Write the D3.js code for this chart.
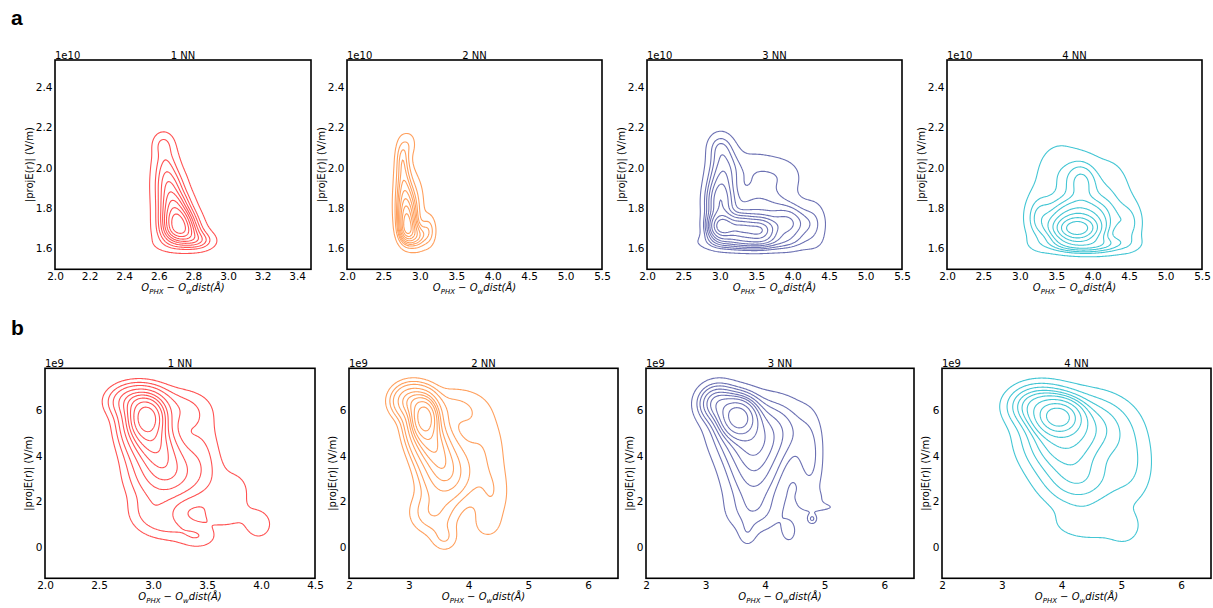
<!DOCTYPE html>
<html><head><meta charset="utf-8">
<script src="https://cdn.jsdelivr.net/npm/d3@7"></script>
<style>
body{margin:0;background:#fff;}
text{font-family:"DejaVu Sans",sans-serif;fill:#000;}
</style></head>
<body>
<svg id="chart" width="1213" height="608"></svg>
<script>
// ---- DATA ----
const titles = ["1 NN", "2 NN", "3 NN", "4 NN"];
const colors = ["#ff5252", "#ffa05e", "#6c71b3", "#44c6d4"];

const aXTicks1 = [2.0, 2.2, 2.4, 2.6, 2.8, 3.0, 3.2, 3.4];
const aXTicks = [2.0, 2.5, 3.0, 3.5, 4.0, 4.5, 5.0, 5.5];
const aYTicks = [1.6, 1.8, 2.0, 2.2, 2.4];
const bXTicks1 = [2.0, 2.5, 3.0, 3.5, 4.0, 4.5];
const bXTicks = [2, 3, 4, 5, 6];
const bYTicks = [0, 2, 4, 6];

const aXRange1 = [2.0, 3.48];
const aXRange = [2.0, 5.5];
const aYRange = [1.496, 2.536];   // x 1e10
const bXRange1 = [2.0, 4.5];
const bXRange = [2.0, 6.5];
const bYRange = [-1.35, 7.82];    // x 1e9

// Density components: [x, y, sx, sy, rho, weight]
const a1Density = [
  [2.725, 1.680, 0.072, 0.038, 0.0, 0.22],
  [2.710, 1.740, 0.066, 0.042, 0.0, 0.22],
  [2.690, 1.810, 0.062, 0.050, 0.0, 0.18],
  [2.665, 1.900, 0.058, 0.060, 0.0, 0.15],
  [2.640, 2.010, 0.050, 0.070, 0.0, 0.10],
  [2.625, 2.120, 0.040, 0.040, 0.0, 0.03],
  [2.830, 1.640, 0.060, 0.030, 0.0, 0.05],
  [2.720, 1.620, 0.100, 0.030, 0.0, 0.05]
];
const a2Density = [
  [2.825, 1.692, 0.075, 0.045, 0.0, 0.20],
  [2.815, 1.760, 0.080, 0.052, 0.0, 0.19],
  [2.795, 1.840, 0.082, 0.062, 0.0, 0.16],
  [2.775, 1.950, 0.074, 0.070, 0.0, 0.11],
  [2.760, 2.060, 0.058, 0.060, 0.0, 0.06],
  [2.860, 2.120, 0.060, 0.040, 0.0, 0.02],
  [2.960, 1.660, 0.090, 0.040, 0.0, 0.10],
  [3.120, 1.690, 0.065, 0.050, 0.0, 0.05],
  [2.930, 1.820, 0.090, 0.100, 0.0, 0.10]
];
const a3Density = [
  [3.020, 1.705, 0.120, 0.042, 0.0, 0.10],
  [3.280, 1.700, 0.130, 0.042, 0.0, 0.09],
  [3.550, 1.690, 0.140, 0.040, 0.0, 0.10],
  [3.000, 1.830, 0.130, 0.085, 0.0, 0.14],
  [3.500, 1.790, 0.280, 0.085, 0.0, 0.14],
  [3.950, 1.720, 0.180, 0.065, 0.0, 0.10],
  [3.050, 2.000, 0.140, 0.080, 0.0, 0.07],
  [3.000, 2.110, 0.120, 0.050, 0.0, 0.02],
  [3.450, 1.990, 0.220, 0.070, 0.0, 0.04],
  [3.850, 1.960, 0.220, 0.070, 0.0, 0.04],
  [4.300, 1.720, 0.120, 0.080, 0.0, 0.03],
  [3.400, 1.630, 0.400, 0.030, 0.0, 0.08]
];
const a4Density = [
  [3.780, 1.695, 0.190, 0.037, 0.0, 0.25],
  [3.800, 1.750, 0.260, 0.060, 0.0, 0.25],
  [3.850, 1.930, 0.140, 0.070, 0.0, 0.06],
  [3.550, 1.950, 0.230, 0.120, 0.0, 0.09],
  [4.200, 1.850, 0.220, 0.130, 0.0, 0.10],
  [3.900, 1.620, 0.350, 0.030, 0.0, 0.10],
  [3.250, 1.750, 0.120, 0.080, 0.0, 0.04],
  [4.500, 1.720, 0.120, 0.070, 0.0, 0.03]
];
const b1Density = [
  [2.950, 5.700, 0.100, 0.500, 0.0, 0.18],
  [2.950, 5.000, 0.140, 0.700, -0.3, 0.20],
  [3.050, 4.000, 0.180, 0.800, -0.3, 0.18],
  [3.100, 3.000, 0.200, 0.700, 0.0, 0.12],
  [2.850, 6.400, 0.150, 0.450, 0.0, 0.10],
  [3.200, 6.000, 0.200, 0.600, 0.0, 0.06],
  [3.450, 4.000, 0.120, 1.200, 0.0, 0.05],
  [3.750, 2.400, 0.150, 0.900, 0.0, 0.03],
  [3.980, 1.000, 0.090, 0.450, 0.0, 0.012],
  [3.000, 1.500, 0.150, 0.600, 0.0, 0.04],
  [3.420, 0.450, 0.120, 0.350, 0.0, 0.012],
  [3.200, 0.800, 0.150, 0.400, 0.0, 0.015],
  [3.650, 1.400, 0.120, 0.350, 0.0, 0.008]
];
const b2Density = [
  [3.270, 5.700, 0.130, 0.500, 0.0, 0.18],
  [3.300, 5.000, 0.200, 0.750, -0.3, 0.20],
  [3.500, 4.000, 0.250, 0.800, -0.3, 0.16],
  [3.600, 3.000, 0.250, 0.700, 0.0, 0.10],
  [3.050, 6.400, 0.200, 0.450, 0.0, 0.10],
  [3.700, 6.100, 0.350, 0.600, 0.0, 0.05],
  [4.200, 4.300, 0.300, 1.300, 0.0, 0.08],
  [4.400, 2.200, 0.200, 0.900, 0.0, 0.03],
  [3.400, 1.500, 0.250, 0.600, 0.0, 0.05],
  [4.300, 0.950, 0.170, 0.450, 0.0, 0.008],
  [3.600, 0.400, 0.150, 0.400, 0.0, 0.012]
];
const b3Density = [
  [3.550, 5.700, 0.180, 0.500, 0.0, 0.20],
  [3.700, 4.800, 0.350, 1.000, -0.2, 0.25],
  [3.200, 6.300, 0.200, 0.500, 0.0, 0.08],
  [4.200, 5.200, 0.350, 0.900, 0.0, 0.10],
  [3.800, 3.000, 0.300, 0.900, 0.0, 0.10],
  [4.750, 3.800, 0.150, 1.200, 0.0, 0.04],
  [3.800, 1.500, 0.300, 0.600, 0.0, 0.035],
  [4.400, 0.700, 0.100, 0.400, 0.0, 0.005],
  [3.700, 0.600, 0.100, 0.400, 0.0, 0.005],
  [5.000, 1.750, 0.250, 0.150, 0.0, 0.003],
  [4.750, 2.100, 0.200, 0.300, 0.0, 0.005],
  [4.790, 1.250, 0.050, 0.140, 0.0, 0.0015]
];
const b4Density = [
  [3.950, 5.700, 0.220, 0.450, 0.0, 0.20],
  [4.000, 4.800, 0.400, 1.000, 0.0, 0.25],
  [3.600, 6.200, 0.300, 0.550, 0.0, 0.10],
  [4.600, 5.300, 0.400, 0.900, 0.0, 0.10],
  [4.300, 2.900, 0.400, 0.800, 0.0, 0.10],
  [5.150, 3.600, 0.280, 1.200, 0.0, 0.05],
  [4.500, 1.000, 0.450, 0.500, 0.0, 0.03],
  [5.050, 0.750, 0.180, 0.500, 0.0, 0.007]
];

// Iso-proportion levels (fraction of mass below each contour), as in seaborn kdeplot
const isoProps = [0.05, 0.1556, 0.2611, 0.3667, 0.4722, 0.5778, 0.6833, 0.7889, 0.8944];

// ---- LAYOUT ----
const panels = [
  {row:"a", i:0, box:[55,60,311,269.3], xr:aXRange1, yr:aYRange, xt:aXTicks1, yt:aYTicks, xf:".1f", yf:".1f", exp:"1e10", comp:a1Density},
  {row:"a", i:1, box:[347,60,602,269.3], xr:aXRange, yr:aYRange, xt:aXTicks, yt:aYTicks, xf:".1f", yf:".1f", exp:"1e10", comp:a2Density},
  {row:"a", i:2, box:[647,60,902,269.3], xr:aXRange, yr:aYRange, xt:aXTicks, yt:aYTicks, xf:".1f", yf:".1f", exp:"1e10", comp:a3Density},
  {row:"a", i:3, box:[947,60,1202,269.3], xr:aXRange, yr:aYRange, xt:aXTicks, yt:aYTicks, xf:".1f", yf:".1f", exp:"1e10", comp:a4Density},
  {row:"b", i:0, box:[45,368.3,315,578.3], xr:bXRange1, yr:bYRange, xt:bXTicks1, yt:bYTicks, xf:".1f", yf:"d", exp:"1e9", comp:b1Density},
  {row:"b", i:1, box:[349,368.3,618,578.3], xr:bXRange, yr:bYRange, xt:bXTicks, yt:bYTicks, xf:"d", yf:"d", exp:"1e9", comp:b2Density},
  {row:"b", i:2, box:[646,368.3,914,578.3], xr:bXRange, yr:bYRange, xt:bXTicks, yt:bYTicks, xf:"d", yf:"d", exp:"1e9", comp:b3Density},
  {row:"b", i:3, box:[942,368.3,1211,578.3], xr:bXRange, yr:bYRange, xt:bXTicks, yt:bYTicks, xf:"d", yf:"d", exp:"1e9", comp:b4Density}
];

const svg = d3.select("#chart");
[["a", 25], ["b", 335]].forEach(([t, y]) => {
  svg.append("text").attr("x", 11).attr("y", y).style("font-size", "21px").style("font-weight", "bold")
    .style("font-family", "Arial, 'Liberation Sans', sans-serif").text(t);
});

function density(comp, x, y) {
  let s = 0;
  for (const [cx, cy, sx, sy, r, w] of comp) {
    const dx = (x - cx) / sx, dy = (y - cy) / sy;
    const q = (dx*dx - 2*r*dx*dy + dy*dy) / (1 - r*r);
    s += w / (2*Math.PI*sx*sy*Math.sqrt(1 - r*r)) * Math.exp(-0.5*q);
  }
  return s;
}

panels.forEach((p, k) => {
  const [x0, y0, x1, y1] = p.box;
  const xs = d3.scaleLinear().domain(p.xr).range([x0, x1]);
  const ys = d3.scaleLinear().domain(p.yr).range([y1, y0]);
  const g = svg.append("g");
  const clipId = "clip" + k;
  g.append("clipPath").attr("id", clipId).append("rect")
    .attr("x", x0).attr("y", y0).attr("width", x1 - x0).attr("height", y1 - y0);

  const nx = 240, ny = 240;
  const dx = (p.xr[1] - p.xr[0]) / (nx - 1), dy = (p.yr[1] - p.yr[0]) / (ny - 1);
  const values = new Float64Array(nx * ny);
  for (let j = 0; j < ny; j++) for (let i = 0; i < nx; i++)
    values[j*nx + i] = density(p.comp, p.xr[0] + i*dx, p.yr[0] + j*dy);
  const sorted = Array.from(values).sort((a, b) => b - a);
  const total = d3.sum(sorted);
  const cum = []; let acc = 0;
  for (const v of sorted) { acc += v; cum.push(acc / total); }
  const levels = isoProps.map(q => sorted[Math.min(sorted.length - 1, d3.bisectLeft(cum, 1 - q))]);

  const contours = d3.contours().size([nx, ny]).thresholds(levels)(values);
  const proj = d3.geoTransform({
    point: function(gx, gy) {
      this.stream.point(xs(p.xr[0] + (gx - 0.5)*dx), ys(p.yr[0] + (gy - 0.5)*dy));
    }
  });
  const path = d3.geoPath(proj);
  g.append("g").attr("clip-path", `url(#${clipId})`)
    .selectAll("path").data(contours).join("path")
    .attr("d", path).attr("fill", "none")
    .attr("stroke", colors[p.i]).attr("stroke-width", 1.1);

  g.append("rect").attr("x", x0).attr("y", y0).attr("width", x1 - x0).attr("height", y1 - y0)
    .attr("fill", "none").attr("stroke", "#000").attr("stroke-width", 1.6);

  const xAxis = d3.axisBottom(xs).tickValues(p.xt).tickSize(0).tickPadding(3.5).tickFormat(d3.format(p.xf));
  const yAxis = d3.axisLeft(ys).tickValues(p.yt).tickSize(0).tickPadding(2.5).tickFormat(d3.format(p.yf));
  const gx = g.append("g").attr("transform", `translate(0,${y1})`).call(xAxis);
  const gy = g.append("g").attr("transform", `translate(${x0},0)`).call(yAxis);
  [gx, gy].forEach(a => {
    a.select(".domain").remove();
    a.selectAll("text").style("font-size", "10.5px").style("font-family", "'DejaVu Sans', sans-serif").attr("fill", "#000");
  });

  g.append("text").attr("x", x0).attr("y", y0 - 1.5).style("font-size", "10px").text(p.exp);
  g.append("text").attr("x", (x0 + x1) / 2).attr("y", y0 - 1.5).attr("text-anchor", "middle").style("font-size", "10px").text(titles[p.i]);

  const ylx = p.row === "a" ? x0 - 26 : x0 - 17;
  g.append("text").attr("transform", `translate(${ylx},${(y0 + y1) / 2}) rotate(-90)`)
    .attr("text-anchor", "middle").attr("dy", "0.35em").style("font-size", "10px").text("|projE(r)| (V/m)");

  const xl = g.append("text").attr("x", (x0 + x1) / 2).attr("y", y1 + 22)
    .attr("text-anchor", "middle").style("font-size", "10px").style("font-style", "italic");
  xl.append("tspan").text("O");
  xl.append("tspan").attr("dy", 2.5).style("font-size", "7px").text("PHX");
  xl.append("tspan").attr("dy", -2.5).style("font-style", "normal").text(" \u2212 ");
  xl.append("tspan").text("O");
  xl.append("tspan").attr("dy", 2.5).style("font-size", "7px").text("w");
  xl.append("tspan").attr("dy", -2.5).text("dist(\u00C5)");
});
</script>
</body></html>
